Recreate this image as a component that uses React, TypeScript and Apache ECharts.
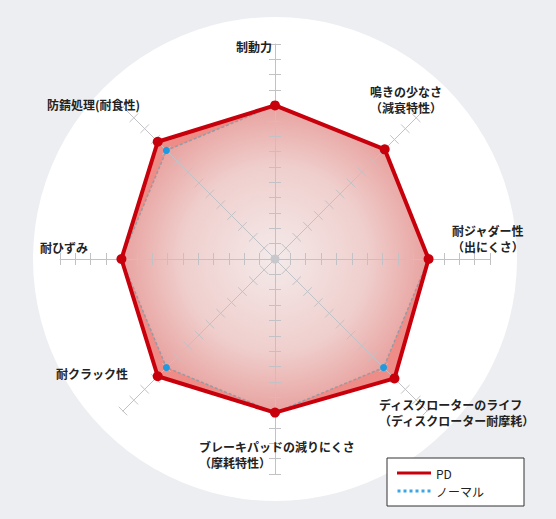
import { useEffect, useRef } from 'react';
import * as echarts from 'echarts';

// axis order follows ECharts radar (counter-clockwise from the top)
const axisNames = [
  ['制動力'],
  ['防錆処理(耐食性)'],
  ['耐ひずみ'],
  ['耐クラック性'],
  ['ブレーキパッドの減りにくさ', '（摩耗特性）'],
  ['ディスクローターのライフ', '（ディスクローター耐摩耗）'],
  ['耐ジャダー性', '（出にくさ）'],
  ['鳴きの少なさ', '（減衰特性）'],
];
const axisMax = 14;
const pdValues = [10, 10.8, 10, 10.8, 10, 11, 10, 10.1];
const normalValues = [10, 10, 10, 10, 10, 10, 10, 10];

// label anchor (left, middle of first line) for each axis name
const labelPos = [
  [236, 46],
  [47, 104],
  [40, 247],
  [56, 373],
  [199, 446],
  [379, 404],
  [452, 230],
  [370, 91],
];
const LINE_GAP = 16;

const FONT = '"Noto Sans CJK JP", "Noto Sans", sans-serif';
const AXIS_GREY = '#c2c2c6';

export default function App() {
  const chartRef = useRef<HTMLDivElement>(null);

  useEffect(() => {
    if (!chartRef.current) return;
    const chart = echarts.init(chartRef.current, null, { renderer: 'svg' });

    const indicator = axisNames.map(() => ({ name: '', max: axisMax, min: 0 }));
    const radarBase = {
      center: [275, 259],
      radius: 215,
      startAngle: 90,
      shape: 'polygon',
      splitNumber: 14,
      indicator,
      z: 5,
      axisName: { show: false },
      splitLine: { show: false },
      splitArea: { show: false },
    };

    const labels: any[] = [];
    axisNames.forEach((lines, i) => {
      lines.forEach((line, j) => {
        labels.push({
          type: 'text',
          z: 100,
          silent: true,
          x: labelPos[i][0],
          y: labelPos[i][1] + j * LINE_GAP,
          style: {
            text: line,
            fill: '#222',
            font: `bold 12px ${FONT}`,
            textAlign: 'left',
            textVerticalAlign: 'middle',
          },
        });
      });
    });

    const option = {
      animation: false,
      backgroundColor: '#edeef2',
      radar: [
        {
          ...radarBase,
          axisLine: { lineStyle: { color: AXIS_GREY, width: 1 } },
          axisTick: { show: true, length: 6, lineStyle: { color: AXIS_GREY } },
        },
        {
          // same axes again, ticks pointing to the other side
          ...radarBase,
          axisLine: { show: false },
          axisTick: { show: true, length: -6, lineStyle: { color: AXIS_GREY } },
        },
      ],
      legend: {
        orient: 'vertical',
        left: 387,
        top: 458,
        padding: [9, 40, 9, 10],
        itemGap: 6,
        itemWidth: 34,
        itemHeight: 3,
        backgroundColor: '#fff',
        borderColor: '#333',
        borderWidth: 1,
        borderRadius: 0,
        selectedMode: false,
        textStyle: { fontSize: 12, color: '#222', fontFamily: FONT },
        data: [
          { name: 'PD', icon: 'rect', itemStyle: { color: '#c8000c' } },
          {
            name: 'ノーマル',
            icon: 'path://M0,0h3v3h-3z M6,0h3v3h-3z M12,0h3v3h-3z M18,0h3v3h-3z M24,0h3v3h-3z M30,0h3v3h-3z',
            itemStyle: { color: '#3aa6e6' },
          },
        ],
      },
      series: [
        {
          // PD fill (drawn under the normal area)
          type: 'radar',
          radarIndex: 0,
          z: 1,
          symbol: 'none',
          lineStyle: { width: 0, opacity: 0 },
          areaStyle: { color: '#ee8c88', opacity: 1 },
          data: [{ name: 'PD', value: pdValues }],
        },
        {
          type: 'radar',
          radarIndex: 0,
          z: 2,
          symbol: 'none',
          lineStyle: { width: 0, opacity: 0 },
          areaStyle: {
            opacity: 1,
            color: {
              type: 'radial',
              x: 0.5,
              y: 0.5,
              r: 0.5,
              colorStops: [
                { offset: 0, color: '#f4eaea' },
                { offset: 0.6, color: '#efcfcd' },
                { offset: 1, color: '#e8a29f' },
              ],
            },
          },
          data: [{ name: 'ノーマル', value: normalValues }],
        },
        {
          // normal outline, above the axes
          type: 'radar',
          radarIndex: 0,
          z: 6,
          symbol: 'circle',
          symbolSize: 7,
          itemStyle: { color: '#1e9be0' },
          lineStyle: { color: '#9a9aa2', width: 1.5, type: [3, 2] },
          data: [{ name: 'ノーマル', value: normalValues }],
        },
        {
          type: 'radar',
          radarIndex: 0,
          z: 7,
          symbol: 'circle',
          symbolSize: 10,
          itemStyle: { color: '#c8000c' },
          lineStyle: { color: '#c8000c', width: 4 },
          data: [{ name: 'PD', value: pdValues }],
        },
      ],
      graphic: [
        {
          type: 'circle',
          z: -10,
          silent: true,
          shape: { cx: 275, cy: 259, r: 242 },
          style: { fill: '#ffffff' },
        },
        {
          type: 'circle',
          z: 100,
          silent: true,
          shape: { cx: 275, cy: 259, r: 4.5 },
          style: { fill: '#c8c8cc' },
        },
        ...labels,
      ],
    };

    chart.setOption(option);
    return () => chart.dispose();
  }, []);

  return (
    <div
      ref={chartRef}
      style={{ position: 'fixed', left: 0, top: 0, width: '556px', height: '519px' }}
    />
  );
}
